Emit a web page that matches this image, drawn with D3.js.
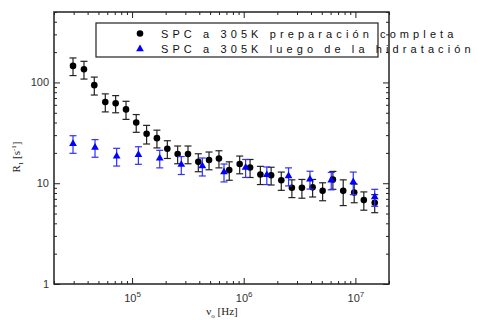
<!DOCTYPE html>
<html>
<head>
<meta charset="utf-8">
<script src="https://cdn.jsdelivr.net/npm/d3@7/dist/d3.min.js"></script>
<style>
  html, body { margin: 0; padding: 0; background: #fff; }
  svg { display: block; }
</style>
</head>
<body>
<svg id="chart" width="477" height="320"></svg>
<script>
// ---------- data ----------
const seriesNames = ["SPC a 305K preparación completa", "SPC a 305K luego de la hidratación"];

const freqBlack = [29.6e3, 37.1e3, 45.9e3, 57.6e3, 71.3e3, 88.3e3, 109e3, 135e3, 167e3, 207e3,
                   256e3, 317e3, 392e3, 489e3, 600e3, 742e3, 920e3, 1.14e6, 1.41e6, 1.76e6,
                   2.17e6, 2.70e6, 3.32e6, 4.14e6, 5.09e6, 6.29e6, 7.78e6, 9.76e6, 11.9e6, 14.9e6];
const r1Black   = [146, 135, 94, 64, 62, 54, 40, 31, 28, 22,
                   19.5, 19.5, 16.3, 17, 17.6, 13.5, 15.5, 14.3, 12.2, 12,
                   10.7, 9, 9, 9.1, 8.4, 10.9, 8.4, 8.1, 6.8, 6.4];
const errBlack  = [29, 27, 19, 13, 12, 11, 8, 6.5, 5.6, 4.4,
                   3.9, 3.9, 3.3, 3.4, 3.4, 2.8, 3.1, 2.9, 2.5, 2.4,
                   2.2, 1.8, 1.9, 1.8, 1.7, 2.2, 2.4, 1.7, 1.4, 1.3];

const freqBlue  = [29.6e3, 46.6e3, 72.8e3, 114e3, 177e3, 276e3, 426e3, 666e3, 1.04e6, 1.61e6,
                   2.52e6, 3.92e6, 6.08e6, 9.57e6, 14.9e6];
const r1Blue    = [24.7, 22.6, 18.5, 19.2, 17.7, 15.3, 14.8, 12.9, 14.3, 12.1,
                   11.8, 10.95, 10.7, 10.3, 7.3];
const errBlue   = [4.9, 4.5, 3.7, 3.8, 3.5, 3.1, 3.0, 2.6, 2.9, 2.4,
                   2.4, 2.2, 2.1, 2.6, 1.4];

const xDomain = [2e4, 2e7];
const yDomain = [1, 500];
const xMajorTicks = [1e5, 1e6, 1e7];
const xMajorBase = ["10", "10", "10"];
const xMajorExp = ["5", "6", "7"];
const yMajorTicks = [1, 10, 100];
const yMajorLabels = ["1", "10", "100"];

// ---------- layout ----------
const L = 54, R = 389, T = 12, B = 284;
const svg = d3.select("#chart");
const x = d3.scaleLog().domain(xDomain).range([L, R]);
const y = d3.scaleLog().domain(yDomain).range([B, T]);

const axisColor = "#222";
const minorX = x.ticks().filter(v => !xMajorTicks.includes(v));
const minorY = y.ticks().filter(v => !yMajorTicks.includes(v));

function styleAxis(g) {
  g.select(".domain").remove();
  g.selectAll("line").attr("stroke", axisColor).attr("stroke-width", 1);
}

// bottom
svg.append("g").attr("transform", `translate(0,${B})`)
  .call(d3.axisBottom(x).tickValues(minorX).tickSize(-3).tickFormat("")).call(styleAxis);
const bx = svg.append("g").attr("transform", `translate(0,${B})`)
  .call(d3.axisBottom(x).tickValues(xMajorTicks).tickSize(-6).tickFormat("")).call(styleAxis);
bx.selectAll(".tick").each(function(d, i) {
  const t = d3.select(this).append("text")
    .attr("y", 18).attr("text-anchor", "middle")
    .attr("fill", "#333").attr("font-family", "Liberation Sans, Arial, sans-serif")
    .attr("font-size", 11);
  t.append("tspan").text(xMajorBase[i]);
  t.append("tspan").attr("dy", -5).attr("font-size", 8).text(xMajorExp[i]);
});
// top
svg.append("g").attr("transform", `translate(0,${T})`)
  .call(d3.axisTop(x).tickValues(minorX).tickSize(-3).tickFormat("")).call(styleAxis);
svg.append("g").attr("transform", `translate(0,${T})`)
  .call(d3.axisTop(x).tickValues(xMajorTicks).tickSize(-6).tickFormat("")).call(styleAxis);
// left
svg.append("g").attr("transform", `translate(${L},0)`)
  .call(d3.axisLeft(y).tickValues(minorY).tickSize(-3).tickFormat("")).call(styleAxis);
const ly = svg.append("g").attr("transform", `translate(${L},0)`)
  .call(d3.axisLeft(y).tickValues(yMajorTicks).tickSize(-6)
        .tickFormat((d, i) => yMajorLabels[i])).call(styleAxis);
ly.selectAll("text").attr("x", -5).attr("fill", "#333")
  .attr("font-family", "Liberation Sans, Arial, sans-serif").attr("font-size", 11);
// right
svg.append("g").attr("transform", `translate(${R},0)`)
  .call(d3.axisRight(y).tickValues(minorY).tickSize(-3).tickFormat("")).call(styleAxis);
svg.append("g").attr("transform", `translate(${R},0)`)
  .call(d3.axisRight(y).tickValues(yMajorTicks).tickSize(-6).tickFormat("")).call(styleAxis);

// frame
svg.append("rect").attr("x", L).attr("y", T).attr("width", R - L).attr("height", B - T)
  .attr("fill", "none").attr("stroke", axisColor).attr("stroke-width", 1.5);

// axis titles
const xt = svg.append("text").attr("x", 222).attr("y", 315).attr("text-anchor", "middle")
  .attr("font-family", "Liberation Serif, Times New Roman, serif").attr("font-size", 11).attr("fill", "#222");
xt.append("tspan").text("ν");
xt.append("tspan").attr("dy", 2.5).attr("font-size", 7).text("o");
xt.append("tspan").attr("dy", -2.5).text(" [Hz]");

const yt = svg.append("text").attr("transform", "translate(20,157) rotate(-90)").attr("text-anchor", "middle")
  .attr("font-family", "Liberation Serif, Times New Roman, serif").attr("font-size", 11).attr("fill", "#222");
yt.append("tspan").text("R");
yt.append("tspan").attr("dy", 3).attr("font-size", 7).text("1");
yt.append("tspan").attr("dy", -3).text(" [s");
yt.append("tspan").attr("dy", -4).attr("font-size", 7).text("-1");
yt.append("tspan").attr("dy", 4).text("]");

// ---------- marks ----------
function drawSeries(freq, vals, errs, color, errColor, symbol, size) {
  const g = svg.append("g");
  const cap = 3.5;
  freq.forEach((f, i) => {
    const cx = x(f);
    const y1 = y(vals[i] + errs[i]), y0 = y(vals[i] - errs[i]);
    g.append("line").attr("x1", cx).attr("x2", cx).attr("y1", y1).attr("y2", y0)
      .attr("stroke", errColor).attr("stroke-width", 1.2);
    g.append("line").attr("x1", cx - cap).attr("x2", cx + cap).attr("y1", y1).attr("y2", y1)
      .attr("stroke", errColor).attr("stroke-width", 1.2);
    g.append("line").attr("x1", cx - cap).attr("x2", cx + cap).attr("y1", y0).attr("y2", y0)
      .attr("stroke", errColor).attr("stroke-width", 1.2);
  });
  g.selectAll("path.pt").data(freq).join("path").attr("class", "pt")
    .attr("transform", (f, i) => `translate(${x(f)},${y(vals[i])})`)
    .attr("d", d3.symbol().type(symbol).size(size)())
    .attr("fill", color);
}
drawSeries(freqBlack, r1Black, errBlack, "#000", "#222", d3.symbolCircle, 34);
drawSeries(freqBlue, r1Blue, errBlue, "#0000ff", "#3030ff", d3.symbolTriangle, 26);

// ---------- legend ----------
svg.append("rect").attr("x", 96).attr("y", 23).attr("width", 282).attr("height", 34)
  .attr("fill", "none").attr("stroke", axisColor).attr("stroke-width", 1.2);
const legendRows = [
  {name: seriesNames[0], color: "#000", symbol: d3.symbolCircle, size: 34, cy: 33.5},
  {name: seriesNames[1], color: "#0000ff", symbol: d3.symbolTriangle, size: 26, cy: 49}
];
legendRows.forEach(r => {
  svg.append("path").attr("transform", `translate(140,${r.cy})`)
    .attr("d", d3.symbol().type(r.symbol).size(r.size)()).attr("fill", r.color);
  svg.append("text").attr("x", 161).attr("y", r.cy + 4)
    .attr("font-family", "Liberation Sans, Arial, sans-serif").attr("font-size", 11)
    .attr("letter-spacing", "4.1px").attr("fill", "#111").text(r.name);
});
</script>
</body>
</html>
